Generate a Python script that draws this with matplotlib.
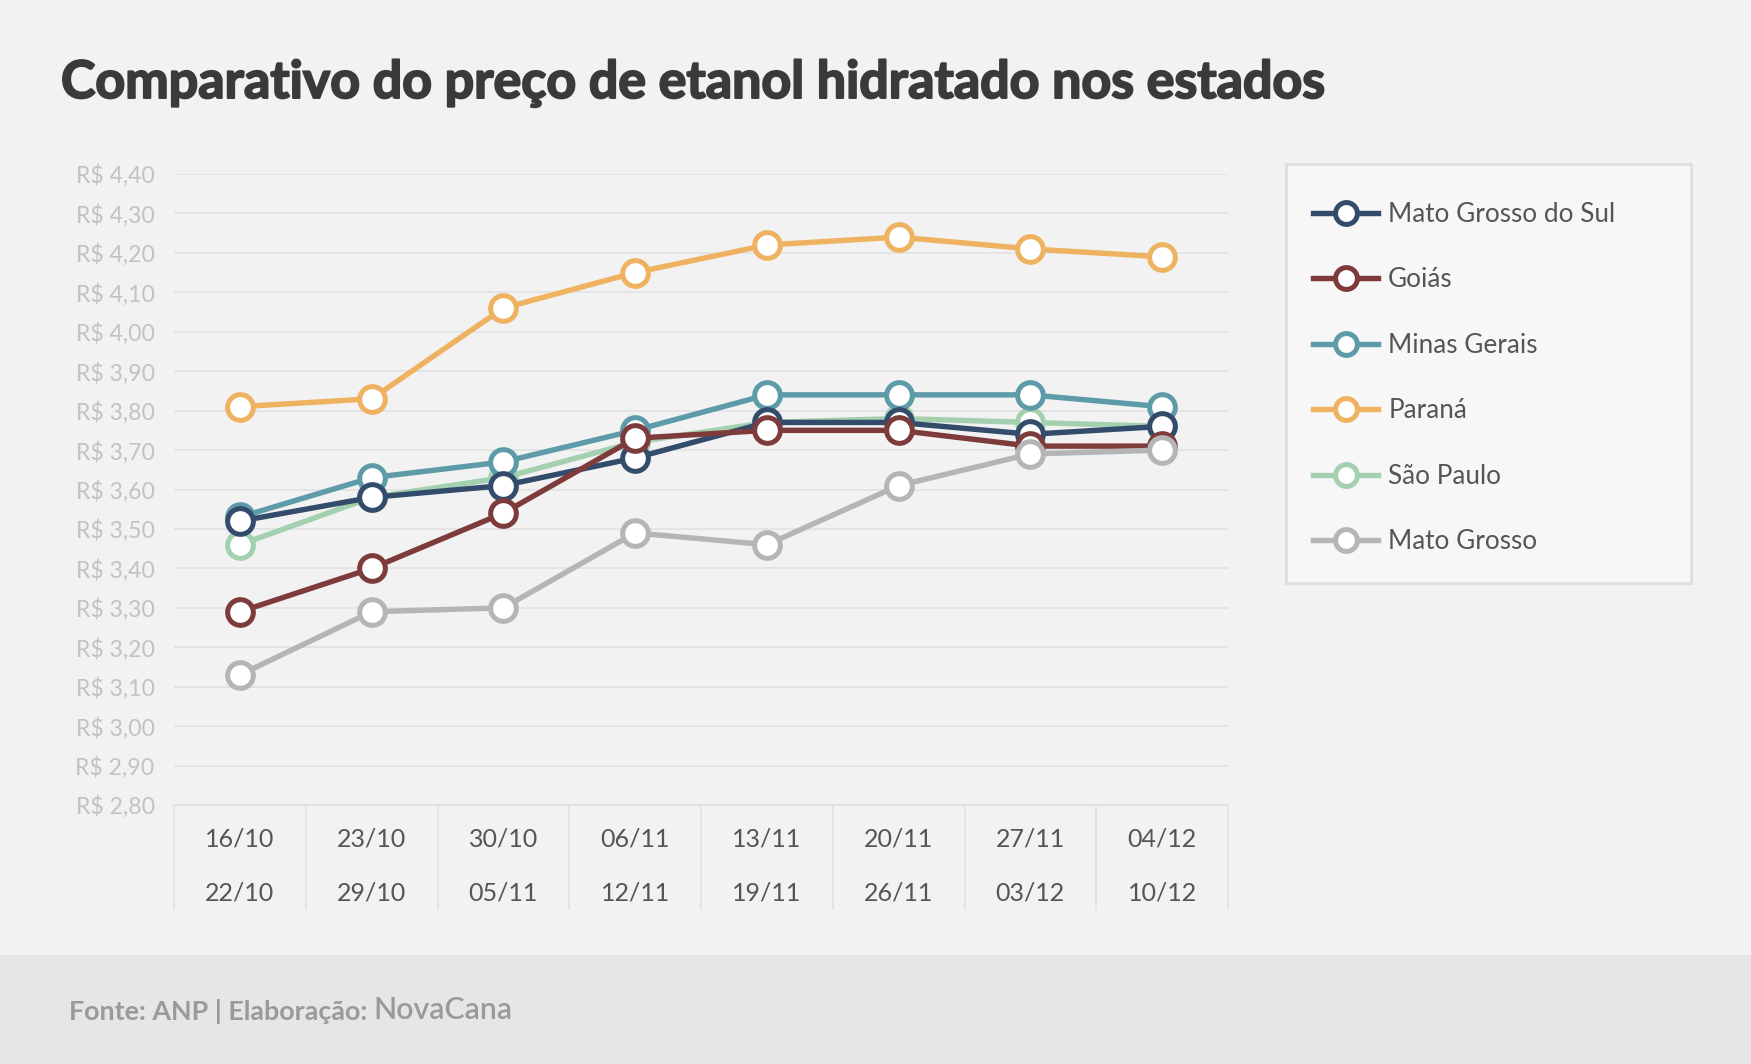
import numpy as np
import matplotlib.pyplot as plt
import matplotlib.patheffects as pe
from matplotlib.patches import Rectangle

WEEK_START = ["16/10", "23/10", "30/10", "06/11", "13/11", "20/11", "27/11", "04/12"]
WEEK_END = ["22/10", "29/10", "05/11", "12/11", "19/11", "26/11", "03/12", "10/12"]

STATES = ["Mato Grosso do Sul", "Goiás", "Minas Gerais", "Paraná", "São Paulo", "Mato Grosso"]
MS = [3.52, 3.58, 3.61, 3.68, 3.77, 3.77, 3.74, 3.76]
GO = [3.29, 3.40, 3.54, 3.73, 3.75, 3.75, 3.71, 3.71]
MG = [3.53, 3.63, 3.67, 3.75, 3.84, 3.84, 3.84, 3.81]
PR = [3.81, 3.83, 4.06, 4.15, 4.22, 4.24, 4.21, 4.19]
SP = [3.46, 3.58, 3.63, 3.72, 3.77, 3.78, 3.77, 3.76]
MT = [3.13, 3.29, 3.30, 3.49, 3.46, 3.61, 3.69, 3.70]

COLORS = ["#344c6b", "#7e3b3c", "#5e9ba9", "#efb261", "#a3d0ae", "#b5b5b5"]
ZORDER = [5, 6, 4, 3, 2, 7]

Y_TICKS = np.round(np.arange(2.8, 4.41, 0.1), 2)

plt.rcParams["font.family"] = ["Lato", "DejaVu Sans"]

W, H = 1751, 1064
fig = plt.figure(figsize=(W / 100, H / 100), dpi=100, facecolor="#f2f2f2")

# footer band and legend box sit behind the axes
fig.patches.append(Rectangle((0, 0), 1, (H - 955) / H, transform=fig.transFigure,
                             facecolor="#e6e6e6", edgecolor="none", zorder=-2))
fig.patches.append(Rectangle((1286 / W, 1 - 583 / H), (1691 - 1286) / W, (583 - 164) / H,
                             transform=fig.transFigure, facecolor="#f7f7f7",
                             edgecolor="#e0e0e0", lw=2.2, zorder=-1))

ax = fig.add_axes([174 / W, 1 - 805 / H, (1228 - 174) / W, (805 - 174) / H])
ax.set_facecolor("#f2f2f2")

x = np.arange(len(WEEK_START))
series = [MS, GO, MG, PR, SP, MT]
for name, vals, c, z in zip(STATES, series, COLORS, ZORDER):
    ax.plot(x, vals, color=c, lw=3.9, marker="o", ms=18.5, mfc="white",
            mec=c, mew=3.6, label=name, zorder=z)

ax.set_xlim(-0.5, len(x) - 0.5)
ax.set_ylim(2.80, 4.40)
ax.set_yticks(Y_TICKS)
ax.set_yticklabels([f"R$ {v:.2f}".replace(".", ",") for v in Y_TICKS])
ax.tick_params(axis="y", length=0, pad=14, labelsize=16.6, labelcolor="#c2c2c2")
ax.set_xticks([])
ax.grid(axis="y", color="#e2e2e2", lw=1.2, zorder=0)
for s in ax.spines.values():
    s.set_visible(False)
ax.axhline(2.80, color="#e2e2e2", lw=1.5, zorder=1, clip_on=False)

# table of week labels below the axis
tr = ax.get_xaxis_transform()
hpx = 805 - 174
ax.vlines(np.arange(-0.5, len(x), 1), -(910 - 805) / hpx, 0, transform=tr,
          colors="#e2e2e2", lw=1.2, clip_on=False)
for i, (a, b) in enumerate(zip(WEEK_START, WEEK_END)):
    ax.text(i, -(839 - 805) / hpx, a, transform=tr, ha="center", va="center",
            fontsize=18, color="#555555")
    ax.text(i, -(893 - 805) / hpx, b, transform=tr, ha="center", va="center",
            fontsize=18, color="#555555")

# title (stroked a little to look like the heavy weight)
fig.text(61 / W, 1 - 98 / H, "Comparativo do preço de etanol hidratado nos estados",
         fontsize=37.4, fontweight="bold", color="#3a3a3a", ha="left", va="baseline",
         path_effects=[pe.withStroke(linewidth=1.4, foreground="#3a3a3a")])

leg = ax.legend(loc="upper left", bbox_to_anchor=(1313 / W, 1 - 202 / H),
                bbox_transform=fig.transFigure, frameon=False, fontsize=18.8,
                handlelength=2.5, handletextpad=0.38, labelspacing=1.55,
                borderpad=0, borderaxespad=0, markerscale=0.85)
for t in leg.get_texts():
    t.set_color("#555555")

# footer
t1 = fig.text(69 / W, 1 - 1012 / H, "Fonte: ANP | Elaboração: ", fontsize=19.4,
              fontweight="bold", color="#9a9a9a", ha="left", va="center")
fig.canvas.draw()
bb = t1.get_window_extent()
fig.text(bb.x1 / W, 1 - 1010 / H, "NovaCana", fontsize=21.8, fontweight="semibold",
         color="#9a9a9a", ha="left", va="center")

fig.savefig("out.png", dpi=100, facecolor=fig.get_facecolor())
